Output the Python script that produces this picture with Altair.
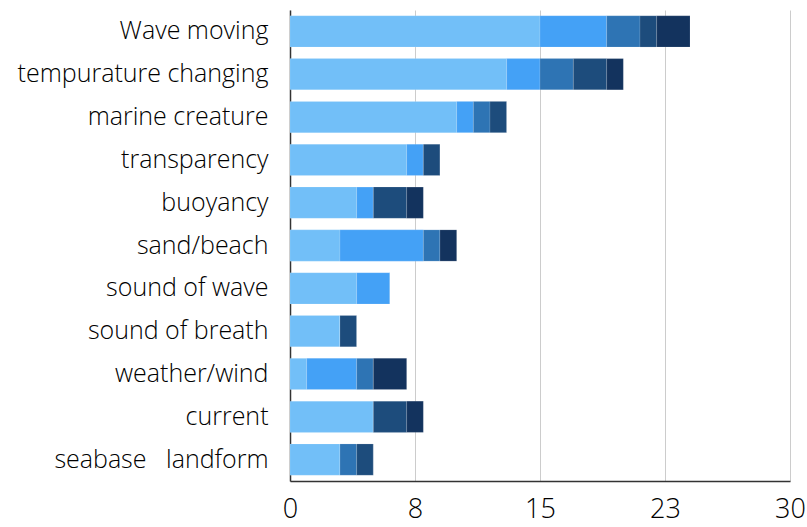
import altair as alt
import pandas as pd

categories = ["Wave moving", "tempurature changing", "marine creature", "transparency",
              "buoyancy", "sand/beach", "sound of wave", "sound of breath",
              "weather/wind", "current", "seabase\u00a0\u00a0\u00a0landform"]
series_names = ["A", "B", "C", "D", "E"]
s1 = [15, 13, 10, 7, 4, 3, 4, 3, 1, 5, 3]
s2 = [4, 2, 1, 1, 1, 5, 2, 0, 3, 0, 0]
s3 = [2, 2, 1, 0, 0, 1, 0, 0, 1, 0, 1]
s4 = [1, 2, 1, 1, 2, 0, 0, 1, 0, 2, 1]
s5 = [2, 1, 0, 0, 1, 1, 0, 0, 2, 1, 0]
colors = ["#72bff8", "#44a1f6", "#2e74b4", "#1d4c7c", "#13335e"]
x_ticks = [0, 7.5, 15, 22.5, 30]

rows = []
for si, (name, vals) in enumerate(zip(series_names, [s1, s2, s3, s4, s5])):
    for c, v in zip(categories, vals):
        rows.append({"category": c, "series": name, "order": si, "value": v})
df = pd.DataFrame(rows)

font = "Open Sans"

chart = alt.Chart(df).mark_bar(stroke="#ffffff", strokeOpacity=0.25, strokeWidth=0.5).encode(
    y=alt.Y("category:N", sort=categories, title=None,
            scale=alt.Scale(paddingInner=0.27, paddingOuter=0.135),
            axis=alt.Axis(labelFontSize=25, labelFont=font, labelFontWeight=300,
                          labelColor="#000000", labelPadding=22, ticks=False,
                          domainColor="#333333", domainWidth=1.5, grid=False,
                          labelLimit=300)),
    x=alt.X("value:Q", stack="zero", title=None,
            scale=alt.Scale(domain=[0, 30], nice=False),
            axis=alt.Axis(values=x_ticks, format=".0f", labelFontSize=27, labelFont=font,
                          labelFontWeight=300, labelColor="#000000", labelPadding=15,
                          labelFlush=False, labelOverlap=False,
                          ticks=False, domainColor="#333333", domainWidth=1.5,
                          grid=True, gridColor="#cccccc", gridWidth=1)),
    color=alt.Color("series:N", scale=alt.Scale(domain=series_names, range=colors), legend=None),
    order=alt.Order("order:Q"),
).properties(
    width=500, height=471,
    padding={"left": 290, "top": 10, "right": 17, "bottom": 46},
    autosize=alt.AutoSizeParams(type="none"),
).configure_view(stroke=None)

chart.save("out.html", embed_options={"renderer": "svg", "actions": False})
